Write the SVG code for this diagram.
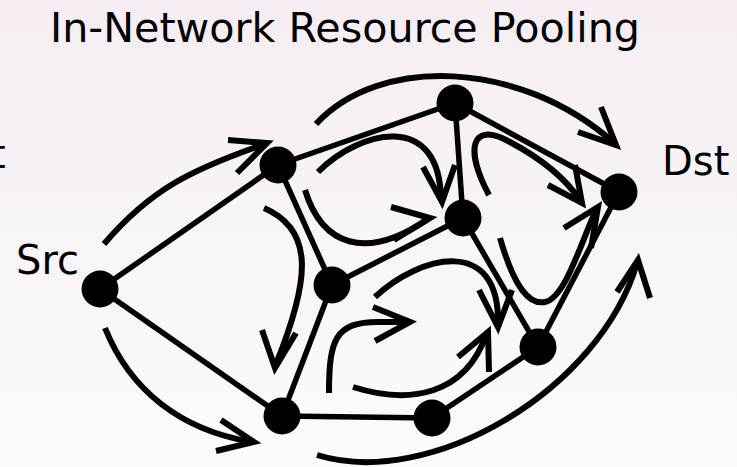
<svg xmlns="http://www.w3.org/2000/svg" width="737" height="467" viewBox="0 0 737 467">
<defs>
<linearGradient id="bg" x1="0" y1="0" x2="0" y2="1">
<stop offset="0" stop-color="#f5edf3"/>
<stop offset="1" stop-color="#fcfbfc"/>
</linearGradient>
<style>
.lbl{font-family:"DejaVu Sans","Noto Sans",sans-serif;fill:#000}
.edge{stroke:#000;stroke-width:5.5;fill:none}
.flow{stroke:#000;stroke-width:6;fill:none;stroke-linecap:butt}
.ah{stroke:#000;stroke-width:6;fill:none;stroke-linejoin:miter;stroke-miterlimit:10}
.node{fill:#000}
</style>
</defs>
<rect x="0" y="0" width="737" height="467" fill="url(#bg)"/>
<text class="lbl" x="50" y="42" font-size="41" textLength="590" lengthAdjust="spacingAndGlyphs">In-Network Resource Pooling</text>
<text class="lbl" x="-10" y="168" font-size="40">t</text>

<g id="connectors">
<g id="edges">
<line class="edge" x1="100" y1="289" x2="278" y2="165"/>
<line class="edge" x1="100" y1="289" x2="282" y2="416"/>
<line class="edge" x1="278" y1="165" x2="455" y2="103"/>
<line class="edge" x1="278" y1="165" x2="332" y2="285"/>
<line class="edge" x1="455" y1="103" x2="463" y2="218"/>
<line class="edge" x1="455" y1="103" x2="619" y2="192"/>
<line class="edge" x1="463" y1="218" x2="332" y2="285"/>
<line class="edge" x1="463" y1="218" x2="538" y2="347"/>
<line class="edge" x1="332" y1="285" x2="282" y2="416"/>
<line class="edge" x1="282" y1="416" x2="432" y2="418"/>
<line class="edge" x1="432" y1="418" x2="538" y2="347"/>
<line class="edge" x1="538" y1="347" x2="619" y2="192"/>
</g>
<g id="flows">
<path class="flow" d="M104,244 C150,190 190,170 265,144"/>
<polyline class="ah" points="228,140 267,143 237,173"/>
<path class="flow" d="M105,328 C130,390 180,430 252,442"/>
<polyline class="ah" points="221,420 254,442 216,451"/>
<path class="flow" d="M316,124 C380,55 520,60 613,142"/>
<polyline class="ah" points="601,107 616,145 578,132"/>
<path class="flow" d="M317,455 C430,490 600,390 637,263"/>
<polyline class="ah" points="617,292 638,260 650,298"/>
<path class="flow" d="M318,172 C360,130 440,110 441,200"/>
<polyline class="ah" points="423,167 442,202 455,165"/>
<path class="flow" d="M305,190 C322,245 365,262 428,219"/>
<polyline class="ah" points="391,207 430,218 394,240"/>
<path class="flow" d="M264,208 C315,230 310,280 276,364"/>
<polyline class="ah" points="262,330 275,368 296,333"/>
<path class="flow" d="M329,393 C329,340 335,322 378,322 L408,322"/>
<polyline class="ah" points="373,307 410,322 375,341"/>
<path class="flow" d="M353,387 C410,405 465,395 486,335"/>
<polyline class="ah" points="458,357 488,332 489,372"/>
<path class="flow" d="M375,297 C420,255 500,235 498,324"/>
<polyline class="ah" points="479,290 498,327 512,290"/>
<path class="flow" d="M489,195 C465,150 470,120 510,142 C540,158 565,178 580,200"/>
<polyline class="ah" points="548,185 582,203 575,165"/>
<path class="flow" d="M500,238 C515,290 530,305 545,302 C565,298 580,245 596,210"/>
<polyline class="ah" points="564,228 598,207 591,248"/>
</g>
</g>

<g id="src"><circle class="node" cx="100" cy="289" r="18.5"/><text class="lbl" x="16" y="274" font-size="40">Src</text></g>
<g id="n-a"><circle class="node" cx="278" cy="165" r="18.5"/></g>
<g id="n-b"><circle class="node" cx="455" cy="103" r="18.5"/></g>
<g id="n-c"><circle class="node" cx="463" cy="218" r="18.5"/></g>
<g id="n-d"><circle class="node" cx="332" cy="285" r="18.5"/></g>
<g id="n-e"><circle class="node" cx="282" cy="416" r="18.5"/></g>
<g id="n-f"><circle class="node" cx="432" cy="418" r="18.5"/></g>
<g id="n-g"><circle class="node" cx="538" cy="347" r="18.5"/></g>
<g id="dst"><circle class="node" cx="619" cy="192" r="18.5"/><text class="lbl" x="662" y="175" font-size="40">Dst</text></g>
</svg>
